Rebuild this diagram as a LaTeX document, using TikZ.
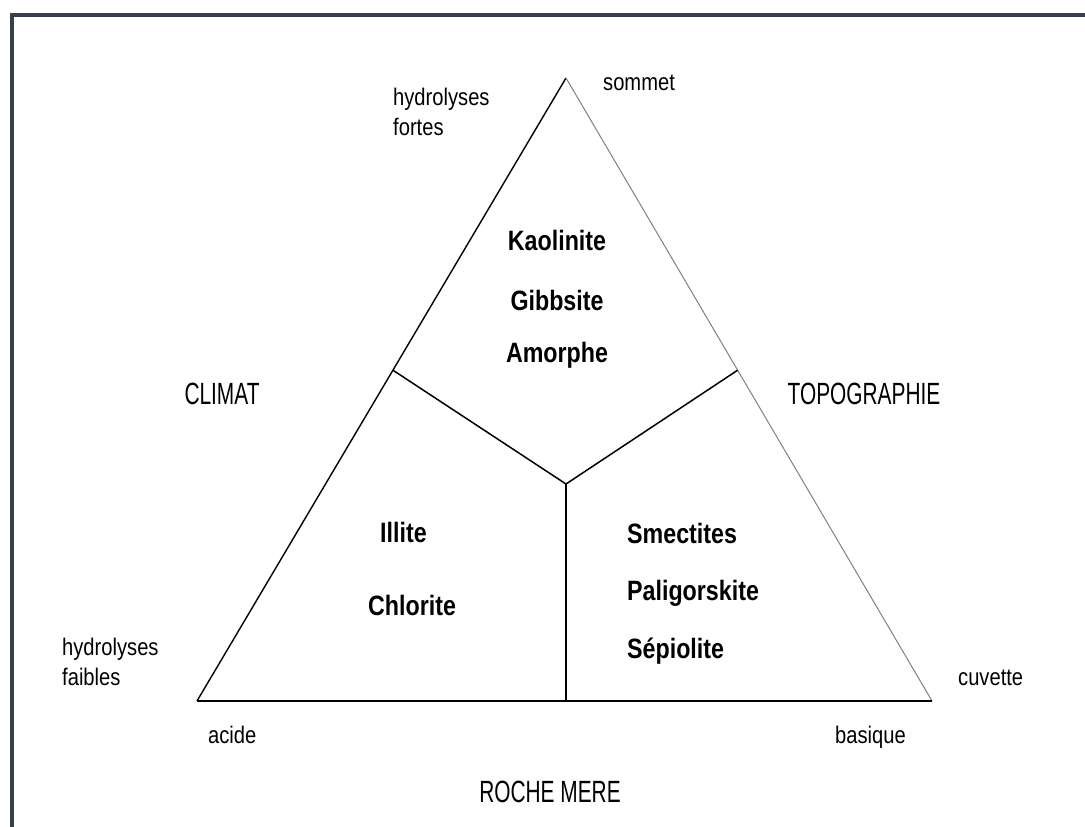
\documentclass[tikz,border=0pt]{standalone}
\usepackage{fontspec}
\setmainfont{Liberation Sans}
\newfontfamily\thinfont[FakeStretch=0.84]{Liberation Sans}
\newfontfamily\capfont[FakeStretch=0.68]{Liberation Sans}
\newfontfamily\claybold[FakeStretch=0.83]{Liberation Sans Bold}
\usetikzlibrary{calc}

\definecolor{framecol}{HTML}{36404F}

\begin{document}
\begin{tikzpicture}[x=1pt, y=-1pt,
	every node/.style={inner sep=0pt},
	word/.style={font=\thinfont\fontsize{24}{30}\selectfont, align=left},
	axis/.style={font=\capfont\fontsize{30.7}{36}\selectfont},
	clay/.style={font=\claybold\fontsize{28}{34}\selectfont}]
	
	\useasboundingbox (0,0) rectangle (1085,827);
	\draw[framecol, line width=4pt, line join=miter] (12,827) -- (12,14.5) -- (1085,14.5);
	
	% corners of the triangle
	\coordinate (top) at (566,78);
	\coordinate (left) at (197,701);
	\coordinate (right) at (932,701);
	\coordinate (cl) at ($(left)!0.531!(top)$);
	\coordinate (tp) at ($(right)!0.531!(top)$);
	\coordinate (mid) at (566,484);
	\coordinate (foot) at (566,701);
	
	\draw[line width=1.4pt] (left) -- (top);
	\draw[gray, line width=1pt] (top) -- (right);
	\draw[line width=2pt] (left) -- (right);
	\draw[line width=1.5pt] (cl) -- (mid) -- (tp);
	\draw[line width=1.5pt] (mid) -- (foot);
	
	% minerals
	\node[clay, anchor=base] (kao) at (557,250) {Kaolinite};
	\node[clay, anchor=base] (gib) at (557,310) {Gibbsite};
	\node[clay, anchor=base] (amo) at (557,362) {Amorphe};
	\node[clay, anchor=base west] (ill) at (380,542) {Illite};
	\node[clay, anchor=base west] (chl) at (368,615) {Chlorite};
	\node[clay, anchor=base west] (sme) at (627,543) {Smectites};
	\node[clay, anchor=base west] (pal) at (627,600) {Paligorskite};
	\node[clay, anchor=base west] (sep) at (627,658) {Sépiolite};
	
	% axes
	\node[axis] (climat) at (222,394) {CLIMAT};
	\node[axis] (topog) at (864,394) {TOPOGRAPHIE};
	\node[axis] (roche) at (550,792) {ROCHE MERE};
	
	% ends
	\node[word, anchor=north west] (fortes) at (393,88) {hydrolyses\\fortes};
	\node[word, anchor=north west] (faibles) at (62,638) {hydrolyses\\faibles};
	\node[word, anchor=base west] (sommet) at (603,90) {sommet};
	\node[word, anchor=base west] (cuvette) at (958,685) {cuvette};
	\node[word, anchor=base west] (acide) at (208,743) {acide};
	\node[word, anchor=base west] (basique) at (835,743) {basique};
	
\end{tikzpicture}
\end{document}
